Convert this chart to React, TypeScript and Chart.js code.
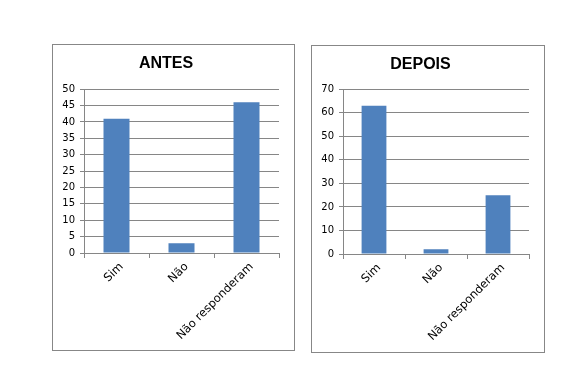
import React, { useEffect, useRef } from "react";
import { Chart, registerables } from "chart.js";

Chart.register(...registerables);

const categories = ["Sim", "Não", "Não responderam"];
const antesValues = [41, 3, 46];
const depoisValues = [63, 2, 25];
const antesTitle = "ANTES";
const depoisTitle = "DEPOIS";

const GRID = "#868686";
const BAR = "#4F81BD";
const FAMILY = "'DejaVu Sans', Verdana, sans-serif";

type Cfg = {
  title: string;
  values: number[];
  max: number;
  step: number;
  padTop: number;
  padBottom: number;
  padRight: number;
  yWidth: number;
  xHeight: number;
};

function BarBox(props: { cfg: Cfg; style: React.CSSProperties }) {
  const ref = useRef<HTMLCanvasElement | null>(null);
  const { cfg } = props;
  useEffect(() => {
    if (!ref.current) return;
    const chart = new Chart(ref.current, {
      type: "bar",
      data: {
        labels: categories,
        datasets: [
          {
            data: cfg.values,
            backgroundColor: BAR,
            borderWidth: 0,
            categoryPercentage: 1,
            barPercentage: 0.4,
          },
        ],
      },
      options: {
        animation: false,
        responsive: false,
        maintainAspectRatio: false,
        layout: { padding: { left: 0, right: cfg.padRight, top: 0, bottom: 0 } },
        plugins: {
          legend: { display: false },
          tooltip: { enabled: false },
          title: {
            display: true,
            text: cfg.title,
            color: "#000",
            font: { family: "'Liberation Sans', Arial, sans-serif", size: 16, weight: "bold" },
            padding: { top: cfg.padTop, bottom: cfg.padBottom },
          },
        },
        scales: {
          x: {
            offset: true,
            grid: {
              offset: true,
              drawOnChartArea: false,
              drawTicks: true,
              tickLength: 5,
              color: GRID,
            },
            border: { display: true, color: GRID },
            ticks: {
              color: "#000",
              font: { family: FAMILY, size: 11.5 },
              minRotation: 45,
              maxRotation: 45,
              padding: 2,
              labelOffset: 5,
              autoSkip: false,
            },
            afterFit: (s: any) => {
              s.height = cfg.xHeight;
            },
          },
          y: {
            min: 0,
            max: cfg.max,
            grid: { color: GRID, tickLength: 4, drawTicks: true },
            border: { display: true, color: GRID },
            ticks: {
              stepSize: cfg.step,
              color: "#000",
              font: { family: FAMILY, size: 10 },
              padding: 5,
            },
            afterFit: (s: any) => {
              s.width = cfg.yWidth;
            },
          },
        },
      },
    });
    return () => chart.destroy();
  }, []);
  const w = (props.style.width as number) - 2;
  const h = (props.style.height as number) - 2;
  return (
    <div
      style={{
        position: "absolute",
        boxSizing: "border-box",
        border: "1px solid #878787",
        background: "#fff",
        ...props.style,
      }}
    >
      <canvas ref={ref} width={w} height={h} style={{ display: "block", width: w, height: h }} />
    </div>
  );
}

export default function App() {
  const left: Cfg = {
    title: antesTitle,
    values: antesValues,
    max: 50,
    step: 5,
    padTop: 9,
    padBottom: 16,
    padRight: 15,
    yWidth: 31,
    xHeight: 97,
  };
  const right: Cfg = {
    title: depoisTitle,
    values: depoisValues,
    max: 70,
    step: 10,
    padTop: 9,
    padBottom: 15,
    padRight: 15,
    yWidth: 31,
    xHeight: 98,
  };
  return (
    <div
      style={{
        position: "fixed",
        left: 0,
        top: 0,
        width: 569,
        height: 392,
        background: "#fff",
        overflow: "hidden",
      }}
    >
      <BarBox cfg={left} style={{ left: 52, top: 44, width: 243, height: 307 }} />
      <BarBox cfg={right} style={{ left: 311, top: 45, width: 234, height: 308 }} />
    </div>
  );
}
